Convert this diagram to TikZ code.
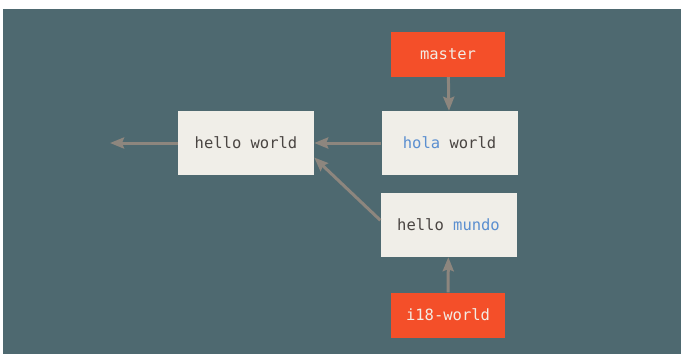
\documentclass[tikz,border=0pt]{standalone}
\usepackage{fontspec}
\setmonofont{DejaVu Sans Mono}
\usetikzlibrary{arrows.meta,positioning}
\definecolor{Slate}{HTML}{4E6970}
\definecolor{Paper}{HTML}{F0EEE8}
\definecolor{Flame}{HTML}{F44F29}
\definecolor{Ink}{HTML}{4A4542}
\definecolor{Sky}{HTML}{5B8FD0}
\definecolor{Taupe}{HTML}{8D867E}
\definecolor{Cream}{HTML}{F3ECE4}

\tikzset{
  commit/.style={fill=Paper,minimum width=136pt,minimum height=64pt,inner sep=0pt,
    font=\ttfamily\fontsize{15.5}{18}\selectfont,text=Ink},
  branch/.style={fill=Flame,minimum width=114pt,minimum height=45pt,inner sep=0pt,
    font=\ttfamily\fontsize{15.5}{18}\selectfont,text=Cream},
  parent/.style={draw=Taupe,line width=3pt,-{Stealth[length=14pt,width=11pt,inset=2pt]}},
}

\begin{document}
\begin{tikzpicture}[x=1pt,y=-1pt]
  \useasboundingbox (0,0) rectangle (684,354);
  \fill[white] (0,0) rectangle (684,354);
  \fill[Slate] (3,9) rectangle (681,354);

  % commits
  \node[commit] (hello) at (246,143) {hello world};
  \node[commit] (hola) at (449.5,143) {\textcolor{Sky}{hola} world};
  \node[commit] (mundo) at (448.5,225) {hello \textcolor{Sky}{mundo}};
  \coordinate (older) at (110,143);

  % branches
  \node[branch] (master) at (448,54.5) {master};
  \node[branch] (i18) at (448,315) {i18-world};

  \draw[parent] (master) -- (hola);
  \draw[parent] (i18) -- (mundo);
  \draw[parent] (hola) -- (hello);
  \draw[parent] (mundo.176) -- (hello.-12);
  \draw[parent] (hello) -- (older);
\end{tikzpicture}
\end{document}
